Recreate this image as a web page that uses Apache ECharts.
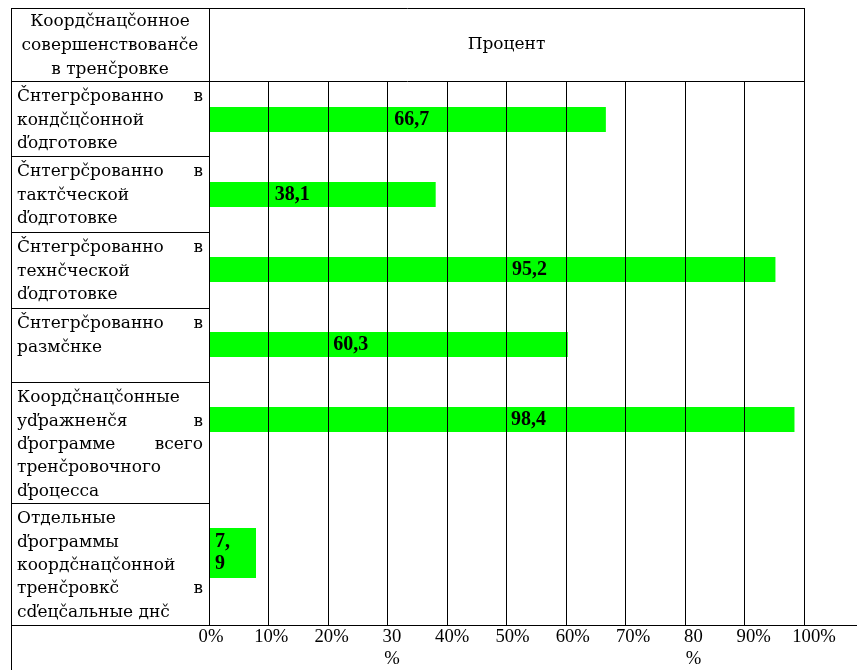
<!DOCTYPE html>
<html>
<head>
<meta charset="utf-8">
<script src="https://cdn.jsdelivr.net/npm/echarts@6/dist/echarts.min.js"></script>
<style>
  html, body { margin: 0; padding: 0; background: #fff; }
  #chart { width: 857px; height: 670px; }
</style>
</head>
<body>
<div id="chart"></div>
<script>
// ---- data ----
const headerLeft = 'Коордčнацčонное\nсовершенствованčе\nв тренčровке';
const headerRight = 'Процент';
const categories = [
  'Čнтегрčрованно в\nкондčцčонной\nďодготовке',
  'Čнтегрčрованно в\nтактčческой\nďодготовке',
  'Čнтегрčрованно в\nтехнčческой\nďодготовке',
  'Čнтегрčрованно в\nразмčнке',
  'Коордčнацčонные\nуďражненčя в\nďрограмме всего\nтренčровочного\nďроцесса',
  'Отдельные\nďрограммы\nкоордčнацčонной\nтренčровкč в\nсďецčальные днč'
];
const percentValues = [66.7, 38.1, 95.2, 60.3, 98.4, 7.9];
const tickLabels = ['0%', '10%', '20%', '30\n%', '40%', '50%', '60%', '70%', '80\n%', '90%', '100%'];

// ---- layout and style ----
const FONT = 'Liberation Serif';
const FONT_SIZE = 18.67;
// Cyrillic captions use a serif face that carries Cyrillic glyphs
const CYR_SIZE = 17;
const CSS_FONT = CYR_SIZE + 'px "DejaVu Serif", serif';
const INK = '#000';
const BAR_GREEN = '#00ff00';
const tableLeft = 11, colSplit = 209, tableRight = 804, tableTop = 8;
const rowEdges = [81, 156, 232, 308, 382, 503, 625];
const firstLine = 15.7, lineStep = 23.4;
const cellPad = 6;
// where each value label sits along its bar
const labelAt = ['46.7%', '29%', '53.5%', '34.6%', '51.6%', '13%'];

const measureCtx = document.createElement('canvas').getContext('2d');
function textWidth(s) {
  measureCtx.font = CSS_FONT;
  return measureCtx.measureText(s).width;
}

function textEl(str, x, y, align) {
  return {
    type: 'text', x: x, y: y, z: 10, silent: true,
    style: {
      text: str, fill: INK, font: CSS_FONT,
      align: align || 'left', verticalAlign: 'middle'
    }
  };
}

// justified paragraph: every line but the last is spread across the cell
function cellText(text, top, x0, x1) {
  const out = [];
  const lines = text.split('\n');
  lines.forEach(function (ln, k) {
    const y = top + firstLine + k * lineStep;
    const words = ln.split(' ');
    if (k === lines.length - 1 || words.length < 2) {
      out.push(textEl(ln, x0, y, 'left'));
      return;
    }
    const widths = words.map(textWidth);
    const gap = (x1 - x0 - widths.reduce(function (a, b) { return a + b; }, 0)) / (words.length - 1);
    let x = x0;
    words.forEach(function (w, i) {
      out.push(textEl(w, x, y, 'left'));
      x += widths[i] + gap;
    });
  });
  return out;
}

function hLine(x1, x2, y) {
  return { type: 'line', z: 10, silent: true,
    shape: { x1: x1, y1: y + 0.5, x2: x2, y2: y + 0.5 },
    style: { stroke: INK, lineWidth: 1 } };
}
function vLine(x, y1, y2) {
  return { type: 'line', z: 10, silent: true,
    shape: { x1: x + 0.5, y1: y1, x2: x + 0.5, y2: y2 },
    style: { stroke: INK, lineWidth: 1 } };
}

// table frame
const graphics = [
  hLine(tableLeft, tableRight, tableTop),
  hLine(tableLeft, tableRight, rowEdges[0]),
  hLine(tableLeft, 857, rowEdges[rowEdges.length - 1]),
  vLine(tableLeft, tableTop, 670),
  vLine(colSplit, tableTop, rowEdges[rowEdges.length - 1]),
  vLine(tableRight, tableTop, rowEdges[rowEdges.length - 1])
];
for (let i = 1; i < rowEdges.length - 1; i++) graphics.push(hLine(tableLeft, colSplit, rowEdges[i]));

// header cells
graphics.push({
  type: 'text', x: (tableLeft + colSplit) / 2, y: 46, z: 10, silent: true,
  style: { text: headerLeft, fill: INK, font: CSS_FONT,
    lineHeight: 24, align: 'center', verticalAlign: 'middle' }
});
graphics.push(textEl(headerRight, (colSplit + tableRight) / 2, 45, 'center'));

// row captions
categories.forEach(function (c, i) {
  cellText(c, rowEdges[i], tableLeft + cellPad, colSplit - cellPad).forEach(function (g) { graphics.push(g); });
});

function valueLabel(i) {
  return {
    show: true, position: [labelAt[i], '50%'], align: 'left', verticalAlign: 'middle',
    color: INK, fontFamily: FONT, fontSize: 20, fontWeight: 'bold', lineHeight: 22,
    formatter: function (p) { return String(p.value).replace('.', ','); }
  };
}

const mainCount = 5;
const seriesMain = percentValues.slice(0, mainCount).map(function (v, i) {
  return { value: v, label: valueLabel(i) };
});
const seriesLast = percentValues.slice(mainCount).map(function (v, j) {
  const lbl = valueLabel(mainCount + j);
  lbl.width = 20;
  lbl.overflow = 'breakAll';
  return { value: v, label: lbl };
});

const plotW = tableRight - colSplit;
const hiddenValueX = function (gi) {
  return { type: 'value', gridIndex: gi, min: 0, max: 100, interval: 10, show: false };
};

const option = {
  backgroundColor: '#fff',
  animation: false,
  textStyle: { fontFamily: FONT },
  grid: [
    // bars of the first five rows
    { left: colSplit, width: plotW, top: 82, height: 375 },
    // bar of the last row
    { left: colSplit, width: plotW, top: 528, height: 50 },
    // percentage grid lines
    { left: colSplit, width: plotW, top: rowEdges[0], height: rowEdges[6] - rowEdges[0] },
    // tick captions under the table
    { left: 211, width: 603, top: rowEdges[0], height: rowEdges[6] - rowEdges[0] }
  ],
  xAxis: [
    hiddenValueX(0),
    hiddenValueX(1),
    {
      type: 'value', gridIndex: 2, min: 0, max: 100, interval: 10, z: 5,
      axisLine: { show: false }, axisTick: { show: false }, axisLabel: { show: false },
      splitLine: { show: true, lineStyle: { color: INK, width: 1 } }
    },
    {
      type: 'value', gridIndex: 3, min: 0, max: 100, interval: 10,
      axisLine: { show: false }, axisTick: { show: false }, splitLine: { show: false },
      axisLabel: {
        show: true, margin: 4, color: INK, fontFamily: FONT, fontSize: FONT_SIZE, lineHeight: 22,
        showMinLabel: true, showMaxLabel: true, hideOverlap: false, verticalAlign: 'top',
        formatter: function (v) { return tickLabels[Math.round(v / 10)]; }
      }
    }
  ],
  yAxis: [
    { type: 'category', gridIndex: 0, inverse: true, data: categories.slice(0, mainCount), show: false },
    { type: 'category', gridIndex: 1, inverse: true, data: categories.slice(mainCount), show: false },
    { type: 'value', gridIndex: 2, min: 0, max: 1, show: false },
    { type: 'value', gridIndex: 3, min: 0, max: 1, show: false }
  ],
  series: [
    { type: 'bar', xAxisIndex: 0, yAxisIndex: 0, barWidth: 25, z: 2,
      itemStyle: { color: BAR_GREEN }, data: seriesMain },
    { type: 'bar', xAxisIndex: 1, yAxisIndex: 1, barWidth: 50, z: 2,
      itemStyle: { color: BAR_GREEN }, data: seriesLast }
  ],
  graphic: graphics
};

const chart = echarts.init(document.getElementById('chart'), null, { renderer: 'canvas' });
chart.setOption(option);
</script>
</body>
</html>
